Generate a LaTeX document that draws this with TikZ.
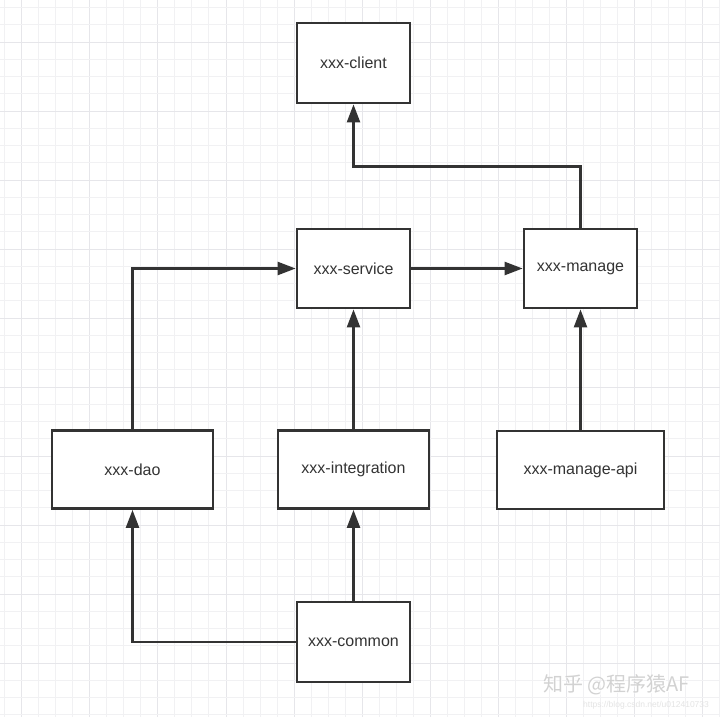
\documentclass[tikz,border=0pt]{standalone}
\usepackage{fontspec}
\setmainfont{Liberation Sans}
\newfontfamily\cjk{Noto Sans CJK SC}
\usetikzlibrary{arrows.meta}
\definecolor{ink}{HTML}{333333}
\definecolor{gridminor}{HTML}{F1F1F3}
\definecolor{gridmajor}{HTML}{E6E6EA}
\definecolor{wmark}{HTML}{D2D2D2}
\definecolor{wurl}{HTML}{E4E4E4}
\tikzset{
  modbox/.style={draw=ink, line width=2.8pt, fill=white, minimum height=79pt,
    inner sep=0pt, text=ink, font=\fontsize{16}{19}\selectfont},
  arr/.style={draw=ink, line width=2.4pt, -{Triangle[length=18pt,width=13pt]}},
  gridln/.style={line width=0.9pt}
}
\begin{document}
\begin{tikzpicture}[x=1pt,y=-1pt]
\useasboundingbox (0,0) rectangle (720,717);
\fill[white] (0,0) rectangle (720,717);
% grid
\foreach \k in {0,...,42}{
  \pgfmathsetmacro{\gx}{4.7+17.02*\k}
  \pgfmathtruncatemacro{\gm}{mod(\k+3,4)}
  \ifnum\gm=0
    \draw[gridln, draw=gridmajor] (\gx,0) -- (\gx,717);
  \else
    \draw[gridln, draw=gridminor] (\gx,0) -- (\gx,717);
  \fi
}
\foreach \k in {0,...,41}{
  \pgfmathsetmacro{\gy}{7.5+17.25*\k}
  \pgfmathtruncatemacro{\gm}{mod(\k+2,4)}
  \ifnum\gm=0
    \draw[gridln, draw=gridmajor] (0,\gy) -- (720,\gy);
  \else
    \draw[gridln, draw=gridminor] (0,\gy) -- (720,\gy);
  \fi
}
% modules
\node[modbox, minimum width=113pt, minimum height=80pt] (client) at (353.5,63) {xxx-client};
\node[modbox, minimum width=113pt] (service) at (353.5,268.5) {xxx-service};
\node[modbox, minimum width=113pt] (manage) at (580.5,268.5) {xxx-manage};
\node[modbox, minimum width=161pt, minimum height=78pt] (dao) at (132.5,469.5) {xxx-dao};
\node[modbox, minimum width=151pt, minimum height=78pt] (integration) at (353.5,469.5) {xxx-integration};
\node[modbox, minimum width=167pt, minimum height=78pt] (api) at (580.5,470) {xxx-manage-api};
\node[modbox, minimum width=113pt, minimum height=80pt] (common) at (353.5,642) {xxx-common};
% connectors
\coordinate (bendA) at (580.5,166.5);
\draw[arr] (manage.north) -- (bendA) -| (client.south);
\draw[arr] (service.east) -- (manage.west);
\draw[arr] (dao.north) |- (service.west);
\draw[arr] (integration.north) -- (service.south);
\draw[arr] (api.north) -- (manage.south);
\draw[arr] (common.west) -| (dao.south);
\draw[arr] (common.north) -- (integration.south);
% watermark
\node[anchor=west, inner sep=0pt, text=white, font=\cjk\fontsize{20}{22}\selectfont] (wmshadow) at (544,686) {知乎 @程序猿AF};
\node[anchor=west, inner sep=0pt, text=wmark, font=\cjk\fontsize{20}{22}\selectfont] (wm) at (543,685) {知乎 @程序猿AF};
\node[anchor=west, inner sep=0pt, text=wurl, font=\fontsize{8.5}{10}\selectfont] (url) at (583,705) {https://blog.csdn.net/u012410733};
\end{tikzpicture}
\end{document}
